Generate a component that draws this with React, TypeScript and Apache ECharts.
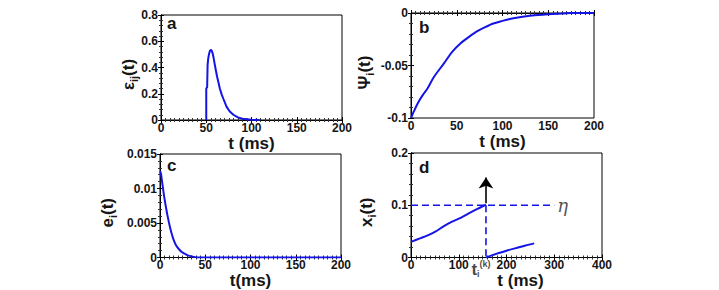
import React, { useEffect, useRef } from "react";
import * as echarts from "echarts";

// Panel a: epsilon_ij(t)
const aT = [50, 50, 51, 51.5, 52.2, 53, 54, 55, 56, 57, 58.2, 59.5, 60.7, 62, 63.5, 65, 67, 69, 72.5, 76, 80, 85, 90, 95, 100, 109];
const aV = [0, 0.24, 0.25, 0.42, 0.47, 0.5, 0.525, 0.535, 0.528, 0.51, 0.47, 0.42, 0.375, 0.33, 0.285, 0.24, 0.195, 0.16, 0.1, 0.065, 0.04, 0.02, 0.01, 0.005, 0.002, 0];

// Panel b: Psi_i(t)
const bT = [0, 3, 8, 13, 18, 25, 36, 45, 54, 63, 72, 81, 90, 100, 108, 117, 126, 135, 144, 155, 166, 175, 200];
const bV = [-0.1, -0.094, -0.085, -0.078, -0.072, -0.061, -0.048, -0.037, -0.029, -0.023, -0.0176, -0.0135, -0.01, -0.0075, -0.0057, -0.0042, -0.003, -0.0022, -0.0016, -0.001, -0.0005, 0, 0];

// Panel c: e_i(t)
const cT = [0, 1, 2.5, 4.4, 6, 8.1, 10, 11.8, 13.5, 15.5, 18, 21, 24, 26.6, 30, 34, 41, 60, 100, 150, 200];
const cV = [0.0125, 0.0122, 0.0108, 0.009, 0.0077, 0.0062, 0.005, 0.004, 0.0032, 0.0024, 0.0017, 0.0012, 0.0008, 0.0006, 0.00035, 0.0002, 0, 0, 0, 0, 0];

// Panel d: x_i(t)
const d1T = [0, 20, 35, 50, 69, 85, 104, 120, 139, 157];
const d1V = [0.03, 0.037, 0.0425, 0.049, 0.06, 0.068, 0.076, 0.084, 0.093, 0.101];
const d2T = [157, 180, 200, 220, 240, 258];
const d2V = [0, 0.0075, 0.013, 0.018, 0.023, 0.027];
const spikeT = 157;
const threshold = 0.1;
const thresholdEnd = 300;
const arrowFrom = 0.104;
const arrowTo = 0.153;

const xTicksA = [0, 200, 50];
const yTicksA = [0, 0.8, 0.2];
const xTicksB = [0, 200, 50];
const yTicksB = [-0.1, 0, 0.05];
const xTicksC = [0, 200, 50];
const yTicksC = [0, 0.015, 0.005];
const xTicksD = [0, 400, 100];
const yTicksD = [0, 0.2, 0.1];

const zip = (t: number[], v: number[]) => t.map((x, i) => [x, v[i]]);

const FONT = '"Liberation Sans", Arial, sans-serif';
const BLUE = "#1414e6";
const INK = "#151515";

function xAx(grid: number, ticks: number[], name: string, gap: number, pad: number[] = [0, 0, 0, 0]) {
  const common = {
    gridIndex: grid,
    type: "value",
    min: ticks[0],
    max: ticks[1],
    interval: ticks[2],
    axisLine: { show: true, lineStyle: { color: "#000", width: 1 } },
    axisTick: { show: true, inside: true, length: 3, lineStyle: { color: "#000" } },
    minorTick: { show: true, splitNumber: 10, length: 2, lineStyle: { color: "#333" } },
    splitLine: { show: false },
  };
  return [
    {
      ...common,
      position: "bottom",
      name,
      nameLocation: "middle",
      nameGap: gap,
      nameMoveOverlap: false,
      nameTextStyle: { fontFamily: FONT, fontWeight: "bold", fontSize: 17, lineHeight: 16, color: INK, padding: pad },
      axisLabel: { show: true, fontFamily: FONT, fontWeight: "bold", fontSize: 12, lineHeight: 11, color: INK, margin: 2 },
    },
    { ...common, position: "top", axisLabel: { show: false } },
  ];
}

function yAx(grid: number, ticks: number[], name: string, gap: number) {
  const common = {
    gridIndex: grid,
    type: "value",
    min: ticks[0],
    max: ticks[1],
    interval: ticks[2],
    axisLine: { show: true, lineStyle: { color: "#000", width: 1 } },
    axisTick: { show: true, inside: true, length: 3, lineStyle: { color: "#000" } },
    minorTick: { show: true, splitNumber: 5, length: 2, lineStyle: { color: "#333" } },
    splitLine: { show: false },
  };
  return [
    {
      ...common,
      position: "left",
      name,
      nameLocation: "middle",
      nameGap: gap,
      nameMoveOverlap: false,
      nameTextStyle: {
        fontFamily: FONT,
        fontWeight: "bold",
        fontSize: 17,
        color: INK,
        padding: [0, 14, 0, 0],
        rich: {
          m: { fontFamily: FONT, fontWeight: "bold", fontSize: 17, color: INK, lineHeight: 22 },
          s: { fontFamily: FONT, fontWeight: "bold", fontSize: 11, color: INK, lineHeight: 11, verticalAlign: "bottom" },
        },
      },
      axisLabel: { show: true, fontFamily: FONT, fontWeight: "bold", fontSize: 12, color: INK, margin: 3 },
    },
    { ...common, position: "right", axisLabel: { show: false } },
  ];
}

function line(xi: number, data: number[][], opts: { dashed?: boolean; smooth?: number; extra?: any } = {}) {
  return {
    type: "line",
    xAxisIndex: xi,
    yAxisIndex: xi,
    data,
    showSymbol: false,
    symbol: "none",
    smooth: opts.smooth || false,
    lineStyle: opts.dashed
      ? { color: BLUE, width: 1.6, type: [7, 4] }
      : { color: BLUE, width: 2 },
    z: 3,
    ...(opts.extra || {}),
  };
}

export default function App() {
  const ref = useRef<HTMLDivElement>(null);
  useEffect(() => {
    if (!ref.current) return;
    const chart = echarts.init(ref.current, null, { renderer: "svg" });
    const gridStyle = { show: true, borderColor: "#000", borderWidth: 1, backgroundColor: "#fff", containLabel: false };
    const option: any = {
      animation: false,
      backgroundColor: "#fff",
      grid: [
        { ...gridStyle, left: 161, top: 15, width: 181, height: 105 },
        { ...gridStyle, left: 411, top: 13, width: 183, height: 105 },
        { ...gridStyle, left: 160, top: 154, width: 181, height: 106 },
        { ...gridStyle, left: 411, top: 153, width: 191, height: 106 },
      ],
      xAxis: [
        ...xAx(0, xTicksA, "t (ms)", 15),
        ...xAx(1, xTicksB, "t (ms)", 15),
        ...xAx(2, xTicksC, "t(ms)", 15),
        ...xAx(3, xTicksD, "t (ms)", 15, [0, 0, 0, 28]),
      ],
      yAxis: [
        ...yAx(0, yTicksA, "{m|ε}{s|ij}{m|(t)}", 22),
        ...yAx(1, yTicksB, "{m|Ψ}{s|i}{m|(t)}", 36),
        ...yAx(2, yTicksC, "{m|e}{s|i}{m|(t)}", 42),
        ...yAx(3, yTicksD, "{m|x}{s|i}{m|(t)}", 34),
      ],
      graphic: [
        { type: "text", x: 167, y: 23, style: { text: "a", font: `bold 17px ${FONT}`, fill: INK, verticalAlign: "middle" } },
        { type: "text", x: 419, y: 27, style: { text: "b", font: `bold 17px ${FONT}`, fill: INK, verticalAlign: "middle" } },
        { type: "text", x: 167, y: 165, style: { text: "c", font: `bold 17px ${FONT}`, fill: INK, verticalAlign: "middle" } },
        { type: "text", x: 419, y: 167, style: { text: "d", font: `bold 17px ${FONT}`, fill: INK, verticalAlign: "middle" } },
      ],
      series: [
        line(0, zip(aT, aV)),
        line(2, zip(bT, bV), { smooth: 0.3 }),
        line(4, zip(cT, cV), { smooth: 0.2 }),
        line(6, zip(d1T, d1V), {
          smooth: 0.3,
          extra: {
            markLine: {
              silent: true,
              symbol: ["none", "arrow"],
              symbolSize: 11,
              label: { show: false },
              lineStyle: { color: "#000", width: 1.6, type: "solid" },
              data: [[{ coord: [spikeT, arrowFrom] }, { coord: [spikeT, arrowTo] }]],
            },
          },
        }),
        line(6, zip(d2T, d2V), { smooth: 0.3 }),
        line(6, [[0, threshold], [thresholdEnd, threshold]], { dashed: true }),
        line(6, [[spikeT, threshold], [spikeT, 0]], { dashed: true }),
        {
          type: "scatter",
          xAxisIndex: 6,
          yAxisIndex: 6,
          symbolSize: 0,
          data: [[thresholdEnd, threshold]],
          label: {
            show: true,
            position: "right",
            distance: 3,
            formatter: "η",
            fontFamily: '"DejaVu Serif", "Liberation Serif", serif',
            fontStyle: "italic",
            fontSize: 18,
            color: "#222",
          },
        },
        {
          type: "scatter",
          xAxisIndex: 6,
          yAxisIndex: 6,
          symbolSize: 0,
          data: [[spikeT, 0]],
          label: {
            show: true,
            position: "bottom",
            distance: 2,
            offset: [-5, 0],
            formatter: "{t|t}{s|i}{p|(k)}",
            rich: {
              t: { fontFamily: FONT, fontWeight: "bold", fontSize: 17, color: INK, lineHeight: 19 },
              s: { fontFamily: FONT, fontWeight: "bold", fontSize: 9, color: INK, lineHeight: 9, verticalAlign: "bottom" },
              p: { fontFamily: FONT, fontWeight: "bold", fontSize: 9, color: INK, lineHeight: 9, verticalAlign: "top" },
            },
          },
        },
      ],
    };
    chart.setOption(option);
    return () => chart.dispose();
  }, []);
  return (
    <div
      ref={ref}
      style={{ position: "fixed", left: 0, top: 0, width: 719, height: 290, background: "#fff" }}
    />
  );
}
